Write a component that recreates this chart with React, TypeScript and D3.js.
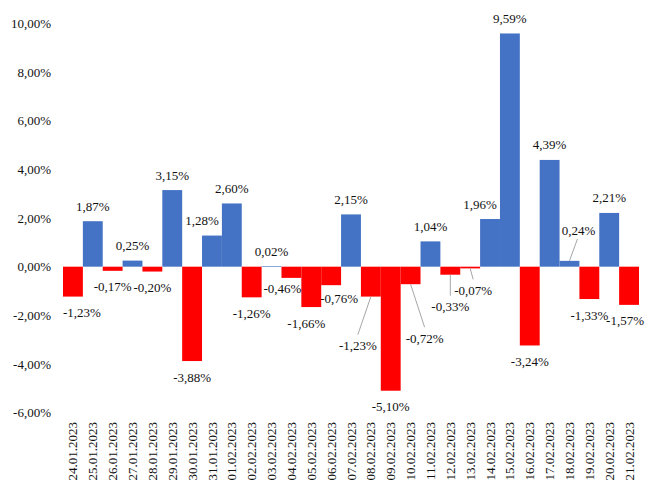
import React from "react";
import * as d3 from "d3";

const dates = [
  "24.01.2023", "25.01.2023", "26.01.2023", "27.01.2023", "28.01.2023", "29.01.2023",
  "30.01.2023", "31.01.2023", "01.02.2023", "02.02.2023", "03.02.2023", "04.02.2023",
  "05.02.2023", "06.02.2023", "07.02.2023", "08.02.2023", "09.02.2023", "10.02.2023",
  "11.02.2023", "12.02.2023", "13.02.2023", "14.02.2023", "15.02.2023", "16.02.2023",
  "17.02.2023", "18.02.2023", "19.02.2023", "20.02.2023", "21.02.2023",
];

const values = [
  -1.23, 1.87, -0.17, 0.25, -0.2, 3.15, -3.88, 1.28, 2.6, -1.26, 0.02, -0.46, -1.66, -0.76,
  2.15, -1.23, -5.1, -0.72, 1.04, -0.33, -0.07, 1.96, 9.59, -3.24, 4.39, 0.24, -1.33, 2.21,
  -1.57,
];

const yTicks = [-6, -4, -2, 0, 2, 4, 6, 8, 10];

// manual label displacement (pixels) relative to default label position
const labelShift: [number, number][] = [
  [9, 0], [0, 0], [0, 0], [0, 0], [0, 0], [0, 0], [0, 0], [-10, 0], [0, 0], [0, 0],
  [0, 0], [-9, -5], [-5, 0], [8, -3], [0, 0], [-13, 33], [0, 0], [14, 38], [0, 0], [0, 16],
  [3, 6], [-10, 0], [0, 0], [0, 0], [0, 0], [9, -15], [0, 0], [0, 0], [-4, 0],
];
const hasLeader = [15, 17, 19, 20, 25];

const W = 651;
const H = 485;
const FONT = "'Liberation Serif', 'Times New Roman', serif";

const fmt = (v: number) => v.toFixed(2).replace(".", ",") + "%";

export default function App() {
  const x = d3.scaleBand<string>().domain(dates).range([63, 639]).padding(0);
  const y = d3.scaleLinear().domain([-6, 10]).range([412.6, 23.5]);
  const bw = x.bandwidth();

  return (
    <svg
      width={W}
      height={H}
      style={{ position: "absolute", left: 0, top: 0, background: "#fff" }}
      fontFamily={FONT}
      fontSize={13}
    >
      <rect x={0} y={0} width={W} height={H} fill="#fff" />
      {yTicks.map((t) => (
        <text key={t} x={51} y={y(t)} dy="0.35em" textAnchor="end" fill="#111">
          {fmt(t)}
        </text>
      ))}
      {values.map((v, i) => {
        const x0 = x(dates[i])!;
        const yTop = y(Math.max(0, v));
        const yBot = y(Math.min(0, v));
        return (
          <rect
            key={"b" + i}
            x={x0}
            y={yTop}
            width={bw}
            height={Math.max(0.6, yBot - yTop)}
            fill={v >= 0 ? "#4472C4" : "#FF0000"}
          />
        );
      })}
      {values.map((v, i) => {
        if (!hasLeader.includes(i)) return null;
        const cx = x(dates[i])! + bw / 2;
        const end = y(v);
        const [dx, dy] = labelShift[i];
        if (v >= 0) {
          const lc = end - 15 + dy;
          return (
            <line key={"l" + i} x1={cx} y1={end} x2={cx + dx - 1} y2={lc + 8}
              stroke="#A6A6A6" strokeWidth={1} />
          );
        }
        const lc = end + 16 + dy;
        return (
          <line key={"l" + i} x1={cx} y1={end} x2={cx + dx + (dx === 0 ? 0 : 0)} y2={lc - 11}
            stroke="#A6A6A6" strokeWidth={1} />
        );
      })}
      {values.map((v, i) => {
        const cx = x(dates[i])! + bw / 2;
        const [dx, dy] = labelShift[i];
        const cy = v >= 0 ? y(v) - 15 + dy : y(v) + 16 + dy;
        return (
          <text key={"t" + i} x={cx + dx} y={cy} dy="0.35em" textAnchor="middle" fill="#111">
            {fmt(v)}
          </text>
        );
      })}
      {dates.map((d) => {
        const cx = x(d)! + bw / 2;
        return (
          <text
            key={"x" + d}
            transform={`translate(${cx},422) rotate(-90)`}
            dy="0.35em"
            textAnchor="end"
            fill="#111"
          >
            {d}
          </text>
        );
      })}
    </svg>
  );
}
